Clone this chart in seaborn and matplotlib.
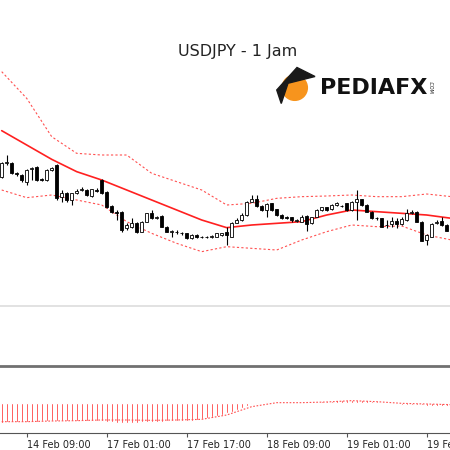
import numpy as np
import pandas as pd
import matplotlib
matplotlib.use("Agg")
import matplotlib.pyplot as plt
import seaborn as sns
from matplotlib.patches import Circle, Polygon

sns.set_style("white")
plt.rcParams['font.family'] = ['DejaVu Sans']

title = "USDJPY - 1 Jam"
tick_pos = [5, 21, 37, 53, 69, 85]
tick_labels = ["14 Feb 09:00", "17 Feb 01:00", "17 Feb 17:00", "18 Feb 09:00", "19 Feb 01:00", "19 Feb 17:00"]

opens = [152.50,152.90,152.90,152.60,152.55,152.35,152.72,152.80,152.42,152.40,
         152.70,152.85,151.90,152.00,151.80,152.00,152.10,152.10,151.92,152.10,
         152.40,152.05,151.62,151.45,151.45,150.95,151.00,151.12,150.85,151.15,
         151.40,151.25,151.32,151.00,150.85,150.85,150.82,150.80,150.65,150.75,
         150.70,150.68,150.69,150.70,150.75,150.85,150.70,151.12,151.20,151.35,
         151.75,151.82,151.62,151.50,151.70,151.52,151.35,151.28,151.28,151.18,
         151.15,151.32,151.10,151.30,151.50,151.58,151.52,151.65,151.63,151.70,
         151.50,151.75,151.82,151.65,151.45,151.26,151.25,151.05,151.08,151.18,
         151.08,151.20,151.42,151.45,151.15,150.60,150.70,151.10,151.18,151.05]
closes = [152.90,152.95,152.60,152.58,152.40,152.70,152.75,152.40,152.40,152.70,
          152.75,151.85,152.00,151.80,152.00,152.07,152.12,151.95,152.12,152.08,
          152.00,151.60,151.45,151.40,150.90,151.05,151.12,150.85,151.15,151.40,
          151.25,151.30,151.00,150.85,150.86,150.84,150.80,150.65,150.75,150.68,
          150.69,150.69,150.71,150.80,150.80,150.75,151.10,151.20,151.35,151.75,
          151.82,151.62,151.50,151.68,151.50,151.35,151.25,151.27,151.20,151.19,
          151.30,151.08,151.28,151.50,151.58,151.50,151.65,151.70,151.62,151.50,
          151.75,151.82,151.65,151.45,151.25,151.25,151.00,151.06,151.18,151.08,
          151.22,151.40,151.43,151.15,150.58,150.75,151.08,151.15,151.05,150.88]
highs = [152.95,153.15,152.95,152.65,152.58,152.72,152.80,152.82,152.46,152.72,
         152.78,152.88,152.10,152.05,152.02,152.12,152.20,152.12,152.14,152.15,
         152.42,152.07,151.65,151.50,151.48,151.10,151.25,151.15,151.17,151.42,
         151.50,151.33,151.35,151.02,150.90,150.90,150.85,150.82,150.77,150.77,
         150.73,150.71,150.75,150.82,150.82,151.00,151.15,151.25,151.40,151.77,
         151.95,151.95,151.64,151.72,151.72,151.54,151.37,151.32,151.30,151.22,
         151.35,151.34,151.30,151.52,151.60,151.60,151.67,151.74,151.66,151.72,
         151.77,152.10,151.84,151.67,151.47,151.30,151.27,151.20,151.30,151.25,
         151.30,151.52,151.50,151.47,151.17,150.77,151.10,151.20,151.30,151.07]
lows = [152.45,152.85,152.58,152.52,152.35,152.25,152.40,152.38,152.36,152.38,
        152.68,151.80,151.75,151.75,151.65,151.98,152.06,151.93,151.90,152.03,
        151.98,151.55,151.40,151.20,150.85,150.90,150.95,150.82,150.83,151.13,
        151.22,151.22,150.98,150.83,150.70,150.78,150.75,150.62,150.63,150.66,
        150.66,150.65,150.67,150.68,150.73,150.45,150.68,151.10,151.18,151.33,
        151.73,151.60,151.48,151.30,151.48,151.33,151.23,151.22,151.15,151.15,
        151.13,150.88,151.08,151.28,151.48,151.48,151.50,151.63,151.58,151.48,
        151.48,151.20,151.63,151.43,151.23,151.20,150.98,150.95,151.00,150.95,
        151.05,151.18,151.38,151.13,150.56,150.45,150.68,151.08,151.03,150.86]

band_idx = list(range(0, 91, 5))
band_mid = [153.88,153.45,153.02,152.65,152.40,152.10,151.80,151.50,151.20,150.97,
            151.05,151.10,151.15,151.35,151.50,151.45,151.40,151.35,151.25]
band_up = [155.65,154.85,153.70,153.20,153.15,153.15,152.60,152.35,152.10,151.65,
           151.70,151.85,151.90,151.92,151.95,151.90,151.90,151.98,151.90]
band_lo = [152.10,151.87,151.95,151.80,151.65,151.15,150.80,150.50,150.25,150.40,
           150.35,150.30,150.60,150.85,151.05,151.00,151.02,150.75,150.60]

hist = [-0.232,-0.228,-0.224,-0.224,-0.228,-0.224,-0.224,-0.220,-0.216,-0.216,
        -0.216,-0.216,-0.216,-0.216,-0.216,-0.216,-0.212,-0.212,-0.212,-0.212,
        -0.216,-0.220,-0.224,-0.232,-0.236,-0.240,-0.236,-0.232,-0.228,-0.224,
        -0.220,-0.220,-0.220,-0.216,-0.216,-0.216,-0.216,-0.212,-0.208,-0.200,
        -0.192,-0.180,-0.168,-0.152,-0.140,
        -0.120,-0.100,-0.080,-0.052,-0.028,-0.012,-0.004,
        0.008,0.012,0.016,0.012,0.008,0.004,0.0,0.004,0.008,
        0.012,0.016,0.020,0.024,0.028,0.032,0.036,0.036,0.040,0.040,0.044,0.040,0.036,0.032,0.024,0.016,
        0.0,-0.008,-0.012,-0.016,-0.016,-0.020,-0.024,-0.024,-0.028,-0.028,-0.032,-0.032,-0.032]
signal = [-0.22,-0.22,-0.212,-0.208,-0.2,-0.2,-0.204,-0.2,-0.192,-0.14,
          -0.04,0.008,0.008,0.016,0.032,0.02,0.0,-0.008,-0.016]

df = pd.DataFrame({"i": np.arange(len(opens)), "o": opens, "c": closes, "h": highs, "l": lows})
bands = pd.DataFrame({"i": band_idx, "mid": band_mid, "up": band_up, "lo": band_lo, "sig": signal})

fig = plt.figure(figsize=(4.5, 4.5), dpi=100)
ax = fig.add_axes([0, 84/450, 1, 366/450])
ax2 = fig.add_axes([0, 17/450, 1, 65/450])
xl = (-0.34, 89.66)

ax.vlines(df.i, df.l, df.h, color="black", lw=0.8, zorder=2)
bottoms = np.minimum(df.o, df.c)
heights = np.maximum(np.abs(df.c - df.o), 0.012)
colors = ["white" if c >= o else "black" for o, c in zip(df.o, df.c)]
ax.bar(df.i, heights, bottom=bottoms, width=0.6, color=colors, edgecolor="black", lw=0.6, zorder=3)

sns.lineplot(data=bands, x="i", y="mid", ax=ax, color="#ff2020", lw=1.2, zorder=1)
sns.lineplot(data=bands, x="i", y="up", ax=ax, color="#ff5050", lw=0.8, ls=(0, (2, 2)), zorder=1)
sns.lineplot(data=bands, x="i", y="lo", ax=ax, color="#ff5050", lw=0.8, ls=(0, (2, 2)), zorder=1)
ax.axhline(148.62, color="#dddddd", lw=1.2)
ax.set_xlim(*xl)
ax.set_ylim(146.82, 157.80)
ax.set_xticks([]); ax.set_yticks([])
ax.set_xlabel(""); ax.set_ylabel("")
for s in ["top", "left", "right"]:
    ax.spines[s].set_visible(False)
ax.spines["bottom"].set_color("#707070"); ax.spines["bottom"].set_linewidth(2)

fig.text(0.527, 0.885, title, ha="center", va="center", fontsize=11.5, color="#222222")
fig.patches.append(Circle((0.655, 0.805), 0.028, transform=fig.transFigure, color="#f7941d"))
fig.patches.append(Polygon([(0.615, 0.80), (0.66, 0.85), (0.70, 0.83), (0.64, 0.815), (0.625, 0.77)],
                           closed=True, transform=fig.transFigure, color="#1a1a1a"))
fig.text(0.71, 0.805, "PEDIAFX", fontsize=16, fontweight="bold", ha="left", va="center", color="#111111")
fig.text(0.955, 0.805, ".COM", fontsize=3.5, rotation=-90, ha="center", va="center", color="#111111")

ax2.bar(np.arange(len(hist)), hist, width=0.45, color="#ff0000")
sns.lineplot(data=bands, x="i", y="sig", ax=ax2, color="#ff5050", lw=0.8, ls=(0, (1.5, 1.5)))
ax2.set_xlim(*xl)
ax2.set_ylim(-0.356, 0.424)
ax2.set_yticks([])
ax2.set_xticks(tick_pos)
ax2.set_xticklabels(tick_labels, fontsize=7, color="#222222", ha="left")
ax2.tick_params(axis="x", length=3, direction="out", bottom=True, pad=2, color="#555555")
ax2.set_xlabel(""); ax2.set_ylabel("")
for s in ["top", "left", "right"]:
    ax2.spines[s].set_visible(False)
ax2.spines["bottom"].set_color("#555555")

fig.savefig("out.png", dpi=100)
